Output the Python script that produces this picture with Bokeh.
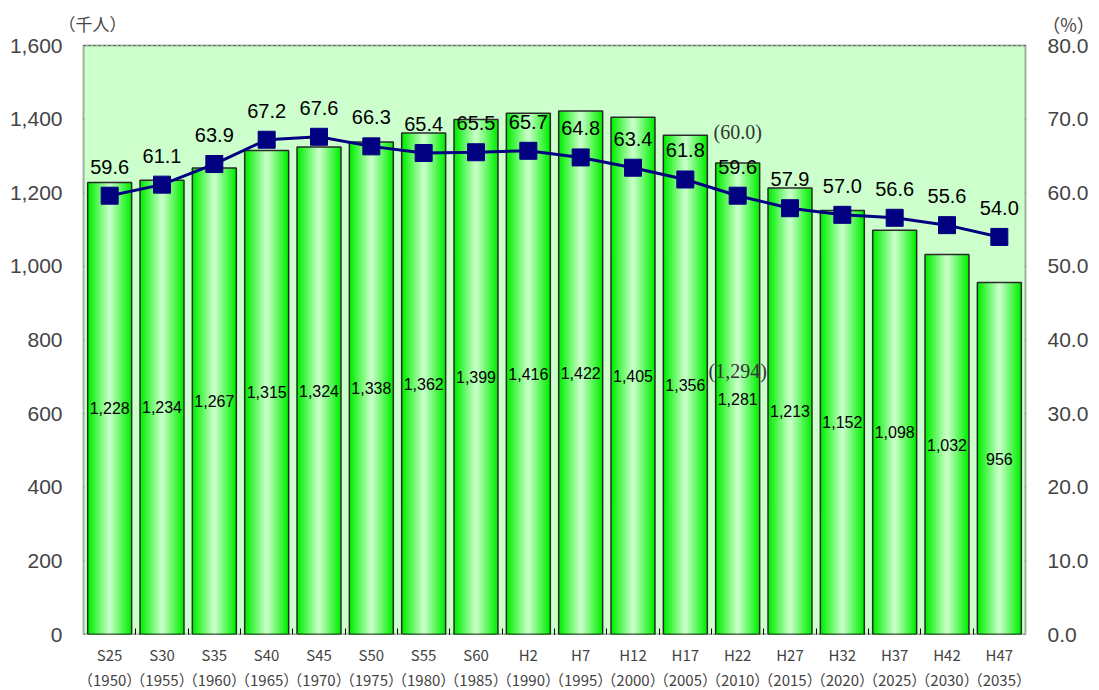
from bokeh.plotting import figure
from bokeh.models import (ColumnDataSource, Range1d, LinearAxis, FixedTicker,
                          NumeralTickFormatter, Label, BoxAnnotation)
from bokeh.core.properties import value
from bokeh.embed import file_html
from bokeh.resources import INLINE

# ---- data ----
era_labels = ["S25", "S30", "S35", "S40", "S45", "S50", "S55", "S60", "H2", "H7",
              "H12", "H17", "H22", "H27", "H32", "H37", "H42", "H47"]
years = [1950, 1955, 1960, 1965, 1970, 1975, 1980, 1985, 1990, 1995,
         2000, 2005, 2010, 2015, 2020, 2025, 2030, 2035]
population = [1228, 1234, 1267, 1315, 1324, 1338, 1362, 1399, 1416, 1422,
              1405, 1356, 1281, 1213, 1152, 1098, 1032, 956]
percent = [59.6, 61.1, 63.9, 67.2, 67.6, 66.3, 65.4, 65.5, 65.7, 64.8,
           63.4, 61.8, 59.6, 57.9, 57.0, 56.6, 55.6, 54.0]
note_index = 12
note_population = 1294
note_percent = 60.0
pop_ticks = list(range(0, 1601, 200))
pct_ticks = list(range(0, 81, 10))
pop_unit = "（千人）"
pct_unit = "（%）"

FONT = "Liberation Sans"
JFONT = "Noto Sans CJK JP"

# layout (pixels)
PLOT_W, PLOT_H = 942, 589
EXTRA_TOP, EXTRA_LEFT, EXTRA_RIGHT = 45, 30, 70
POP_MAX, PCT_MAX = 1600, 80

n = len(population)
px_per_cat = PLOT_W / n
ytop_pop = POP_MAX * (PLOT_H + EXTRA_TOP) / PLOT_H
ytop_pct = PCT_MAX * (PLOT_H + EXTRA_TOP) / PLOT_H

xs = list(range(n))
src = ColumnDataSource(dict(
    x=xs,
    pop=population,
    half=[v / 2 for v in population],
    pop_txt=[f"{v:,}" for v in population],
    pct=percent,
    pct_txt=[f"{v:.1f}" for v in percent],
))

p = figure(frame_width=PLOT_W + EXTRA_LEFT + EXTRA_RIGHT,
           frame_height=PLOT_H + EXTRA_TOP,
           x_range=Range1d(-0.5 - EXTRA_LEFT / px_per_cat,
                           n - 0.5 + EXTRA_RIGHT / px_per_cat),
           y_range=Range1d(0, ytop_pop),
           output_backend="svg", toolbar_location=None,
           min_border_left=83 - EXTRA_LEFT, min_border_right=74 - EXTRA_RIGHT,
           min_border_top=0, min_border_bottom=56)
p.extra_y_ranges = {"pct": Range1d(0, ytop_pct)}

p.background_fill_color = "white"
p.border_fill_color = "white"
p.outline_line_color = None
p.xgrid.grid_line_color = None
p.ygrid.grid_line_color = None

# plot-area fill
p.add_layout(BoxAnnotation(left=-0.5, right=n - 0.5, top=POP_MAX,
                           fill_color="#ccffcc", fill_alpha=1, line_color=None,
                           level="underlay"))

# dotted horizontal grid lines inside the plot area
p.segment(x0=[-0.5] * len(pop_ticks), x1=[n - 0.5] * len(pop_ticks),
          y0=pop_ticks, y1=pop_ticks, line_color="black", line_dash="2 3",
          line_width=1.2, level="underlay")

# bars with horizontal gradient approximation (concentric strips)
W = 0.84
K = 16
edge = (0x00, 0xf0, 0x00)
center = (0xc8, 0xff, 0xc8)
for k in range(K):
    t = k / (K - 1)
    col = tuple(int(edge[i] + (center[i] - edge[i]) * t) for i in range(3))
    p.vbar(x="x", top="pop", bottom=0, width=W * (1 - k / K), source=src,
           fill_color="#%02x%02x%02x" % col, line_color=None)
p.vbar(x="x", top="pop", bottom=0, width=W, source=src,
       fill_color=None, line_color="#2a2a2a", line_width=1.5)

# bar labels
p.text(x="x", y="half", text="pop_txt", source=src, text_align="center",
       text_baseline="middle", text_font=value(FONT), text_font_size="16px",
       text_color="black")

# line
p.line(x="x", y="pct", source=src, y_range_name="pct", line_color="#000080",
       line_width=3)
p.scatter(x="x", y="pct", source=src, y_range_name="pct", marker="square",
          size=17, fill_color="#000080", line_color="#000080")
p.text(x="x", y="pct", text="pct_txt", source=src, y_range_name="pct",
       text_align="center", text_baseline="bottom", y_offset=-22,
       text_font=value(FONT), text_font_size="20px", text_color="black")

# notes
p.add_layout(Label(x=note_index, y=note_population, text=f"({note_percent:.1f})",
                   text_align="center", text_baseline="bottom", y_offset=15,
                   text_font="Liberation Serif", text_font_size="20px",
                   text_color="#333333"))
p.add_layout(Label(x=note_index, y=note_population / 2, text=f"({note_population:,})",
                   text_align="center", text_baseline="middle", y_offset=25,
                   text_font="Liberation Serif", text_font_size="20px",
                   text_color="#333333"))

# frame border
p.add_layout(BoxAnnotation(left=-0.5, right=n - 0.5, top=POP_MAX, fill_color=None,
                           line_color="black", line_width=2, level="overlay"))

# axes
p.xaxis.ticker = FixedTicker(ticks=xs, minor_ticks=[i + 0.5 for i in xs[:-1]])
p.xaxis.major_label_overrides = {i: f"{era_labels[i]}\n（{years[i]}）" for i in xs}
p.xaxis.major_label_text_font = JFONT
p.xaxis.major_label_text_font_size = "15px"
p.xaxis.major_label_text_line_height = 1.2
p.xaxis.major_tick_line_color = None
p.xaxis.minor_tick_in = 6
p.xaxis.minor_tick_out = 0
p.xaxis.minor_tick_line_color = "black"
p.xaxis.axis_line_color = None
p.xaxis.major_label_standoff = 3

p.yaxis.ticker = FixedTicker(ticks=pop_ticks)
p.yaxis.formatter = NumeralTickFormatter(format="0,0")
p.yaxis.major_label_text_font = FONT
p.yaxis.major_label_text_font_size = "21px"
p.yaxis.major_tick_line_color = None
p.yaxis.minor_tick_line_color = None
p.yaxis.axis_line_color = None
p.yaxis.major_label_standoff = 15 - EXTRA_LEFT

ax2 = LinearAxis(y_range_name="pct", ticker=FixedTicker(ticks=pct_ticks),
                 formatter=NumeralTickFormatter(format="0.0"))
ax2.major_label_text_font = FONT
ax2.major_label_text_font_size = "21px"
ax2.major_tick_line_color = None
ax2.minor_tick_line_color = None
ax2.axis_line_color = None
ax2.major_label_standoff = 16 - EXTRA_RIGHT
p.add_layout(ax2, "right")

# unit labels
p.add_layout(Label(x=-0.5, y=POP_MAX, text=pop_unit, text_align="center",
                   text_baseline="middle", x_offset=9, y_offset=22,
                   text_font=JFONT, text_font_size="17px"))
p.add_layout(Label(x=n - 0.5, y=POP_MAX, text=pct_unit, text_align="center",
                   text_baseline="middle", x_offset=43, y_offset=22,
                   text_font=JFONT, text_font_size="18px"))

open("out.html", "w").write(file_html(p, INLINE))
